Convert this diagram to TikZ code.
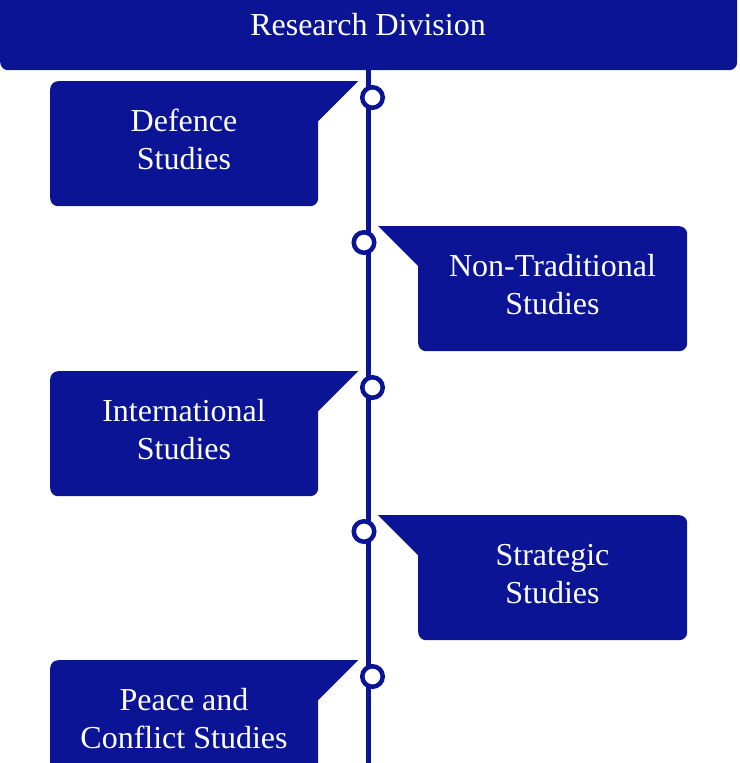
\documentclass[tikz,border=0pt]{standalone}
\usepackage{fontspec}
\setmainfont{Liberation Serif}
\definecolor{rdblue}{RGB}{10,20,148}
\begin{document}
\begin{tikzpicture}[x=1pt,y=-1pt,
  blk/.style={fill=rdblue, draw=none, rounded corners=8pt, inner sep=0pt, anchor=north west},
  lbl/.style={text=white, font=\fontsize{32}{38}\selectfont, align=center, anchor=base, inner sep=0pt},
  dot/.style={circle, draw=rdblue, fill=white, line width=4.5pt, minimum size=20.5pt, inner sep=0pt},
  spine/.style={draw=rdblue, line width=5.5pt},
  tab/.style={fill=rdblue, draw=none}]
\useasboundingbox (0,0) rectangle (739,763);

% top header
\node[blk, minimum width=737pt, minimum height=80pt] (top) at (0,-10) {};
\node[lbl] (toplbl) at (368,35) {Research Division};

% spine
\coordinate (spineend) at (368.5,775);
\draw[spine] (top.south -| spineend) -- (spineend);

% left boxes
\node[blk, minimum width=268pt, minimum height=125pt] (b1) at (50,81) {};
\fill[tab] ([xshift=-18pt]b1.north east) -- ([xshift=40pt]b1.north east) -- ([yshift=-40pt]b1.north east) -- ([xshift=-18pt,yshift=-40pt]b1.north east) -- cycle;
\node[lbl] (t1) at (184,169) {Defence\\Studies};
\node[dot] (c1) at (372.5,97.5) {};

\node[blk, minimum width=268pt, minimum height=125pt] (b3) at (50,371) {};
\fill[tab] ([xshift=-18pt]b3.north east) -- ([xshift=40pt]b3.north east) -- ([yshift=-40pt]b3.north east) -- ([xshift=-18pt,yshift=-40pt]b3.north east) -- cycle;
\node[lbl] (t3) at (184,459) {International\\Studies};
\node[dot] (c3) at (372.5,387.5) {};

\node[blk, minimum width=268pt, minimum height=125pt] (b5) at (50,660) {};
\fill[tab] ([xshift=-18pt]b5.north east) -- ([xshift=40pt]b5.north east) -- ([yshift=-40pt]b5.north east) -- ([xshift=-18pt,yshift=-40pt]b5.north east) -- cycle;
\node[lbl] (t5) at (184,748) {Peace and\\Conflict Studies};
\node[dot] (c5) at (372.5,676.5) {};

% right boxes
\node[blk, minimum width=269pt, minimum height=125pt] (b2) at (418,226) {};
\fill[tab] ([xshift=18pt]b2.north west) -- ([xshift=-40pt]b2.north west) -- ([yshift=-40pt]b2.north west) -- ([xshift=18pt,yshift=-40pt]b2.north west) -- cycle;
\node[lbl] (t2) at (552.5,314) {Non-Traditional\\Studies};
\node[dot] (c2) at (364,242.5) {};

\node[blk, minimum width=269pt, minimum height=125pt] (b4) at (418,515) {};
\fill[tab] ([xshift=18pt]b4.north west) -- ([xshift=-40pt]b4.north west) -- ([yshift=-40pt]b4.north west) -- ([xshift=18pt,yshift=-40pt]b4.north west) -- cycle;
\node[lbl] (t4) at (552.5,603) {Strategic\\Studies};
\node[dot] (c4) at (364,531.5) {};
\end{tikzpicture}
\end{document}
